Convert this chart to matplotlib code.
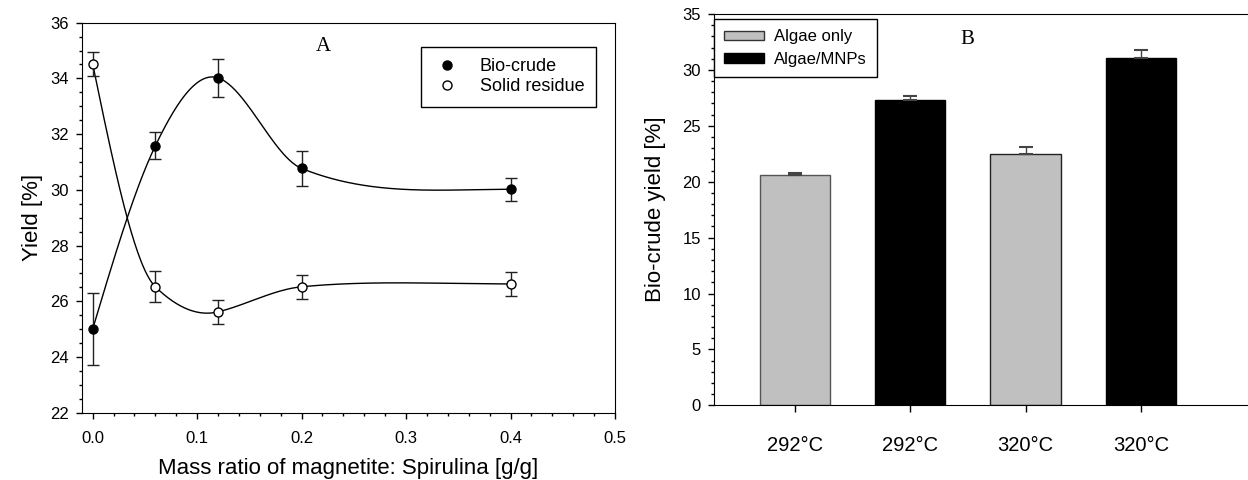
import numpy as np
import matplotlib
matplotlib.use("Agg")
import matplotlib.pyplot as plt
from matplotlib.ticker import MultipleLocator
from matplotlib.patches import Patch
from matplotlib.lines import Line2D

plt.rcParams['font.family'] = ['Liberation Sans', 'DejaVu Sans']

# panel A data
ratio = [0.0, 0.06, 0.12, 0.2, 0.4]
biocrude = [25.0, 31.58, 34.02, 30.77, 30.02]
biocrude_err = [1.28, 0.49, 0.69, 0.63, 0.42]
residue = [34.52, 26.52, 25.62, 26.52, 26.62]
residue_err = [0.43, 0.55, 0.42, 0.43, 0.42]

# panel B data
temps = ['292°C', '292°C', '320°C', '320°C']
bar_yield = [20.6, 27.3, 22.45, 31.05]
bar_err = [0.22, 0.4, 0.62, 0.75]
bar_colors = ['#c0c0c0', 'black', '#c0c0c0', 'black']
bar_edges = ['#555555', 'black', '#222222', 'black']


def smooth_curve(x, y, xs):
    # Akima slopes inside, natural-like slope at start, flat end, cubic Hermite pieces
    x = np.asarray(x, float)
    y = np.asarray(y, float)
    n = len(x)
    h = np.diff(x)
    m = np.diff(y) / h
    mm = np.concatenate([[3 * m[0] - 2 * m[1], 2 * m[0] - m[1]], m,
                         [2 * m[-1] - m[-2], 3 * m[-1] - 2 * m[-2]]])
    s = np.zeros(n)
    for i in range(n):
        w1 = abs(mm[i + 3] - mm[i + 2])
        w2 = abs(mm[i + 1] - mm[i])
        if w1 + w2 == 0:
            s[i] = (mm[i + 1] + mm[i + 2]) / 2
        else:
            s[i] = (w1 * mm[i + 1] + w2 * mm[i + 2]) / (w1 + w2)
    s[0] = (3 * m[0] - s[1]) / 2
    s[-1] = 0.0
    idx = np.clip(np.searchsorted(x, xs) - 1, 0, n - 2)
    hh = h[idx]
    t = (xs - x[idx]) / hh
    return ((2 * t ** 3 - 3 * t ** 2 + 1) * y[idx] + (t ** 3 - 2 * t ** 2 + t) * hh * s[idx]
            + (-2 * t ** 3 + 3 * t ** 2) * y[idx + 1] + (t ** 3 - t ** 2) * hh * s[idx + 1])


fig = plt.figure(figsize=(12.48, 4.8), dpi=100)
W, H = 1248, 480

# ---- panel A
ax1 = fig.add_axes([82 / W, 1 - 412.7 / H, (615 - 82) / W, (412.7 - 22.7) / H])
xs = np.linspace(0, 0.4, 400)
ax1.plot(xs, smooth_curve(ratio, biocrude, xs), color='black', lw=1)
ax1.plot(xs, smooth_curve(ratio, residue, xs), color='black', lw=1)
ax1.errorbar(ratio, biocrude, yerr=biocrude_err, fmt='none', ecolor='#222222',
             elinewidth=1, capsize=4.5, capthick=1)
ax1.errorbar(ratio, residue, yerr=residue_err, fmt='none', ecolor='#222222',
             elinewidth=1, capsize=4.5, capthick=1)
ax1.plot(ratio, biocrude, 'o', color='black', ms=6.5, zorder=5)
ax1.plot(ratio, residue, 'o', mfc='white', mec='black', mew=1, ms=6.5, zorder=5)

ax1.set_xlim(-0.0102, 0.5)
ax1.set_ylim(22, 36)
ax1.xaxis.set_major_locator(MultipleLocator(0.1))
ax1.xaxis.set_minor_locator(MultipleLocator(0.02))
ax1.yaxis.set_major_locator(MultipleLocator(2))
ax1.yaxis.set_minor_locator(MultipleLocator(0.5))
ax1.xaxis.set_major_formatter(plt.FormatStrFormatter('%.1f'))
ax1.tick_params(which='both', direction='out', labelsize=12, width=1)
ax1.tick_params(which='major', length=4.5)
ax1.tick_params(which='minor', length=2.5)
ax1.tick_params(axis='x', pad=9)
ax1.tick_params(axis='y', pad=5)
ax1.set_xlabel('Mass ratio of magnetite: Spirulina [g/g]', fontsize=16, labelpad=8)
ax1.set_ylabel('Yield [%]', fontsize=16, labelpad=5)
ax1.text(323, H - 46.7, 'A', transform=None, fontsize=15,
         family='Liberation Serif', ha='center', va='center')

handles1 = [Line2D([], [], ls='none', marker='o', color='black', ms=6.5),
            Line2D([], [], ls='none', marker='o', mfc='white', mec='black', ms=6.5)]
leg1 = ax1.legend(handles1, ['Bio-crude', 'Solid residue'], loc='upper left',
                  bbox_to_anchor=(421 / W, 1 - 46.7 / H), bbox_transform=fig.transFigure,
                  fontsize=13, frameon=True, fancybox=False, edgecolor='black',
                  framealpha=1, borderaxespad=0, handlelength=1.6, handletextpad=1.0,
                  labelspacing=0.15, borderpad=0.65)
leg1.get_frame().set_linewidth(1)

# ---- panel B
ax2 = fig.add_axes([714.3 / W, 1 - 405.3 / H, (W - 714.3) / W, (405.3 - 14) / H])
pos = np.arange(len(temps))
ax2.bar(pos, bar_yield, width=0.61, color=bar_colors, edgecolor=bar_edges,
        linewidth=1, zorder=2)
ax2.errorbar(pos, bar_yield, yerr=[np.zeros(len(bar_err)), bar_err], fmt='none',
             ecolor='#444444', elinewidth=1, capsize=5, capthick=1.5, zorder=3)
ax2.set_xlim(-0.70, 3.93)
ax2.set_ylim(0, 35)
ax2.set_xticks(pos)
ax2.set_xticklabels(temps, fontsize=14.5)
ax2.yaxis.set_major_locator(MultipleLocator(5))
ax2.yaxis.set_minor_locator(MultipleLocator(1))
ax2.spines['right'].set_visible(False)
ax2.tick_params(which='both', direction='out', width=1)
ax2.tick_params(axis='y', which='major', length=4.5, labelsize=12, pad=5)
ax2.tick_params(axis='y', which='minor', length=2.5)
ax2.tick_params(axis='x', length=5, pad=17)
ax2.set_ylabel('Bio-crude yield [%]', fontsize=16, labelpad=12)
ax2.text(967, H - 40, 'B', transform=None, fontsize=15,
         family='Liberation Serif', ha='center', va='center')

handles2 = [Patch(facecolor='#c0c0c0', edgecolor='#333333', lw=1),
            Patch(facecolor='black', edgecolor='black', lw=1)]
leg2 = ax2.legend(handles2, ['Algae only', 'Algae/MNPs'], loc='upper left',
                  bbox_to_anchor=(714.3 / W, 1 - 19.3 / H), bbox_transform=fig.transFigure,
                  fontsize=12, frameon=True, fancybox=False, edgecolor='black',
                  framealpha=1, borderaxespad=0, handlelength=2.4, handleheight=0.5,
                  handletextpad=0.6, labelspacing=0.45, borderpad=0.6)
leg2.get_frame().set_linewidth(1)

fig.savefig('out.png', dpi=100)
